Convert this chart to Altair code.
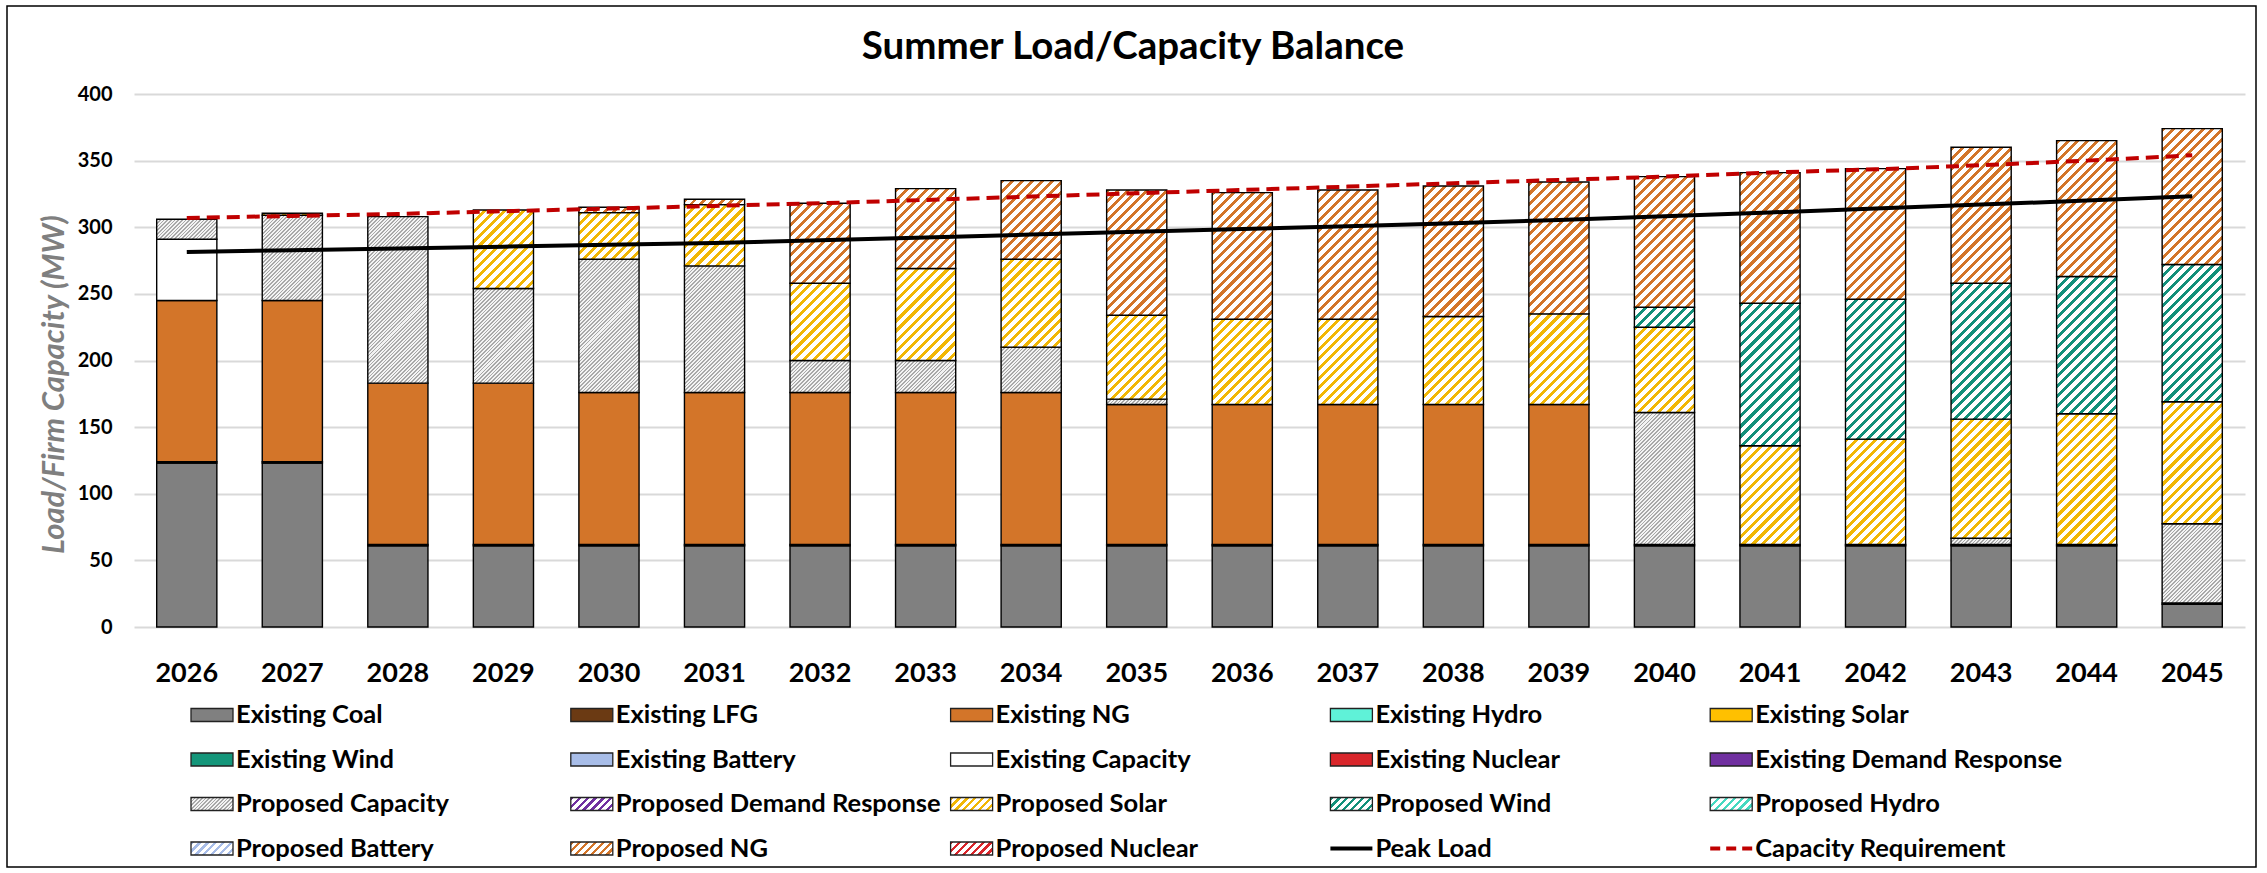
import math
import altair as alt
import pandas as pd

# ---------------- data ----------------
years = [str(y) for y in range(2026, 2046)]

existing_coal = [123, 123, 61, 61, 61, 61, 61, 61, 61, 61, 61, 61, 61, 61, 61, 61, 61, 61, 61, 17]
existing_lfg = [1, 1, 1, 1, 1, 1, 1, 1, 1, 1, 1, 1, 1, 1, 1, 1, 1, 1, 1, 1]
existing_ng = [121, 121, 121, 121, 114, 114, 114, 114, 114, 105, 105, 105, 105, 105, 0, 0, 0, 0, 0, 0]
existing_capacity = [46, 0, 0, 0, 0, 0, 0, 0, 0, 0, 0, 0, 0, 0, 0, 0, 0, 0, 0, 0]
proposed_capacity = [15, 64, 125, 71, 100, 95, 24, 24, 34, 4, 0, 0, 0, 0, 99, 0, 0, 4.6, 0, 59.5]
proposed_solar = [0, 1.5, 0, 59, 35, 46, 58, 69, 66, 63, 64, 64, 66, 68, 64, 74, 79, 89.4, 98, 91.5]
proposed_wind = [0, 0, 0, 0, 0, 0, 0, 0, 0, 0, 0, 0, 0, 0, 15, 107, 105, 102, 103, 103]
proposed_ng = [0, 0, 0, 0, 4, 4, 60, 60, 59, 94, 95, 97, 98, 99, 98, 98, 98, 102, 102, 102]

peak_load = [281.5, 282.8, 284.1, 285.4, 286.8, 288.2, 290.3, 292.4, 294.5, 296.6,
             298.7, 300.8, 303.0, 305.5, 308.3, 311.1, 314.0, 317.0, 320.0, 323.3]
capacity_requirement = [307, 308.5, 310, 312, 314, 316, 318, 320.5, 323, 325.5,
                        328, 330.5, 333, 335.5, 338, 341, 343.5, 346.5, 350, 354]

stack_names = ["Existing Coal", "Existing LFG", "Existing NG", "Existing Capacity",
               "Proposed Capacity", "Proposed Solar", "Proposed Wind", "Proposed NG"]
stack_values = [existing_coal, existing_lfg, existing_ng, existing_capacity,
                proposed_capacity, proposed_solar, proposed_wind, proposed_ng]

legend_names = ["Existing Coal", "Existing LFG", "Existing NG", "Existing Hydro", "Existing Solar",
                "Existing Wind", "Existing Battery", "Existing Capacity", "Existing Nuclear", "Existing Demand Response",
                "Proposed Capacity", "Proposed Demand Response", "Proposed Solar", "Proposed Wind", "Proposed Hydro",
                "Proposed Battery", "Proposed NG", "Proposed Nuclear", "Peak Load", "Capacity Requirement"]

title_text = "Summer Load/Capacity Balance"
y_title = "Load/Firm Capacity (MW)"

# ---------------- styles ----------------
FONT = "Lato"
PLOT_W, PLOT_H = 2111, 533
Y_MAX = 400
PAD_INNER = 0.43
STEP = PLOT_W / len(years)
BAR_W = STEP * (1 - PAD_INNER)
PX_PER_MW = PLOT_H / Y_MAX

solid_colors = {
    "Existing Coal": "#808080", "Existing LFG": "#6b3a13", "Existing NG": "#d37529",
    "Existing Hydro": "#5ff2d8", "Existing Solar": "#ffc000", "Existing Wind": "#14967a",
    "Existing Battery": "#a8bde8", "Existing Capacity": "#ffffff", "Existing Nuclear": "#d9262b",
    "Existing Demand Response": "#7030a0",
}
hatch_colors = {
    "Proposed Demand Response": "#7030a0", "Proposed Solar": "#f2b705", "Proposed Wind": "#12907a",
    "Proposed Hydro": "#45d9c0", "Proposed Battery": "#a8bde8", "Proposed NG": "#d37529",
    "Proposed Nuclear": "#d9262b",
}


def hatch_fill(color, bg, w, h, period=7.0, frac=0.42):
    r = h / w
    s = (1 + r) / (1 + r * r)
    length = (w + h) / math.sqrt(2)
    n = max(1, round(length / period))
    stops = []
    for k in range(n):
        t0 = round(k / n, 5)
        t1 = round((k + frac) / n, 5)
        t2 = round((k + 1) / n, 5)
        stops += [{"offset": t0, "color": color}, {"offset": t1, "color": color},
                  {"offset": t1, "color": bg}, {"offset": t2, "color": bg}]
    return {"gradient": "linear", "x1": 0, "y1": 0, "x2": round(s, 5), "y2": round(s * r, 5), "stops": stops}


def fill_for(name, w, h, legend=False):
    if name in solid_colors:
        return solid_colors[name]
    if name == "Proposed Capacity":
        return hatch_fill("#a8a8a8", "#f3f3f3", w, h, period=2.6, frac=0.45)
    return hatch_fill(hatch_colors[name], "#ffffff", w, h, period=5.5 if legend else 7.0, frac=0.42)


# ---------------- build stacked segments ----------------
bar_rows = []
for i, yr in enumerate(years):
    base = 0.0
    for name, vals in zip(stack_names, stack_values):
        v = vals[i]
        if v > 0:
            bar_rows.append({"year": yr, "series": name, "y0": base, "y1": base + v,
                             "fill": fill_for(name, BAR_W, v * PX_PER_MW)})
            base += v

line_rows = [{"year": yr, "peak": p, "req": c} for yr, p, c in zip(years, peak_load, capacity_requirement)]

x_axis = alt.Axis(title=None, labelAngle=0, ticks=False, tickSize=0, domain=False, grid=False,
                  labelFont=FONT, labelFontSize=27, labelFontWeight="bold", labelColor="#000000",
                  labelBaseline="alphabetic", labelPadding=54)
x_scale = alt.Scale(paddingInner=PAD_INNER, paddingOuter=PAD_INNER / 2)
y_axis = alt.Axis(title=y_title, values=list(range(0, Y_MAX + 1, 50)), ticks=False, tickSize=0,
                  domain=False, grid=True, gridColor="#d9d9d9", gridWidth=2,
                  labelFont=FONT, labelFontSize=20, labelFontWeight="bold", labelColor="#000000",
                  labelPadding=22,
                  titleFont=FONT, titleFontSize=31, titleFontWeight="bold", titleFontStyle="italic",
                  titleColor="#7f7f7f", titleAngle=270, titleX=-80, titleY=290,
                  titleAlign="center", titleBaseline="middle")
y_scale = alt.Scale(domain=[0, Y_MAX], nice=False, zero=True)

bars = alt.Chart(alt.Data(values=bar_rows)).mark_bar(stroke="#000000", strokeWidth=1.4).encode(
    x=alt.X("year:O", sort=years, scale=x_scale, axis=x_axis),
    y=alt.Y("y0:Q", scale=y_scale, axis=y_axis),
    y2="y1:Q",
    fill=alt.Fill("fill:N", scale=None, legend=None),
)

peak = alt.Chart(alt.Data(values=line_rows)).mark_line(color="#000000", strokeWidth=4).encode(
    x=alt.X("year:O", sort=years, scale=x_scale, axis=x_axis),
    y=alt.Y("peak:Q", scale=y_scale, axis=y_axis))
req = alt.Chart(alt.Data(values=line_rows)).mark_line(color="#c00000", strokeWidth=4, strokeDash=[13, 7]).encode(
    x=alt.X("year:O", sort=years, scale=x_scale, axis=x_axis),
    y=alt.Y("req:Q", scale=y_scale, axis=y_axis))

main = alt.layer(bars, peak, req)

# ---------------- legend (laid out in pixels) ----------------
LEG_X0, LEG_COL, LEG_Y0, LEG_ROW = 57, 379.8, 621, 44.5
SW_W, SW_H = 42, 13
sw_rows, txt_rows, line_leg = [], [], {}
for i, name in enumerate(legend_names):
    col, row = i % 5, i // 5
    sx = LEG_X0 + col * LEG_COL
    sy = LEG_Y0 + row * LEG_ROW
    txt_rows.append({"name": name, "tx": sx + 45, "ty": sy})
    if name in ("Peak Load", "Capacity Requirement"):
        line_leg[name] = {"x": sx, "x2": sx + SW_W, "y": sy}
    else:
        sw_rows.append({"x": sx, "x2": sx + SW_W, "y": sy - SW_H / 2, "y2": sy + SW_H / 2,
                        "fill": fill_for(name, SW_W, SW_H, legend=True)})

px = lambda f: alt.X(f, scale=None, axis=None)
py = lambda f: alt.Y(f, scale=None, axis=None)

leg_sw = alt.Chart(alt.Data(values=sw_rows)).mark_rect(stroke="#222222", strokeWidth=1.3).encode(
    x=px("x:Q"), x2="x2:Q", y=py("y:Q"), y2="y2:Q", fill=alt.Fill("fill:N", scale=None, legend=None))
leg_txt = alt.Chart(alt.Data(values=txt_rows)).mark_text(
    align="left", baseline="middle", font=FONT, fontSize=25.5, fontWeight="bold", color="#000000").encode(
    x=px("tx:Q"), y=py("ty:Q"), text="name:N")
leg_peak = alt.Chart(alt.Data(values=[line_leg["Peak Load"]])).mark_rule(color="#000000", strokeWidth=4).encode(
    x=px("x:Q"), x2="x2:Q", y=py("y:Q"))
leg_req = alt.Chart(alt.Data(values=[line_leg["Capacity Requirement"]])).mark_rule(
    color="#c00000", strokeWidth=4, strokeDash=[10, 6]).encode(x=px("x:Q"), x2="x2:Q", y=py("y:Q"))

title = alt.Chart(alt.Data(values=[{"t": title_text}])).mark_text(
    font=FONT, fontSize=38.5, fontWeight="bold", color="#000000", align="center", baseline="alphabetic").encode(
    x=alt.value(999), y=alt.value(-35), text="t:N")

border = alt.Chart(alt.Data(values=[{"a": 1}])).mark_rect(
    fill="#ffffff", fillOpacity=0, stroke="#000000", strokeWidth=1.5).encode(
    x=alt.value(-127), x2=alt.value(2122), y=alt.value(-88), y2=alt.value(773))

chart = alt.layer(border, main, leg_sw, leg_txt, leg_peak, leg_req, title).resolve_scale(
    x="independent", y="independent").properties(
    width=PLOT_W, height=PLOT_H, autosize="none",
    padding={"left": 134, "top": 94, "right": 22, "bottom": 246},
    background="#ffffff",
).configure_view(stroke=None)

chart.save("out.html", embed_options={"renderer": "svg", "actions": False})
